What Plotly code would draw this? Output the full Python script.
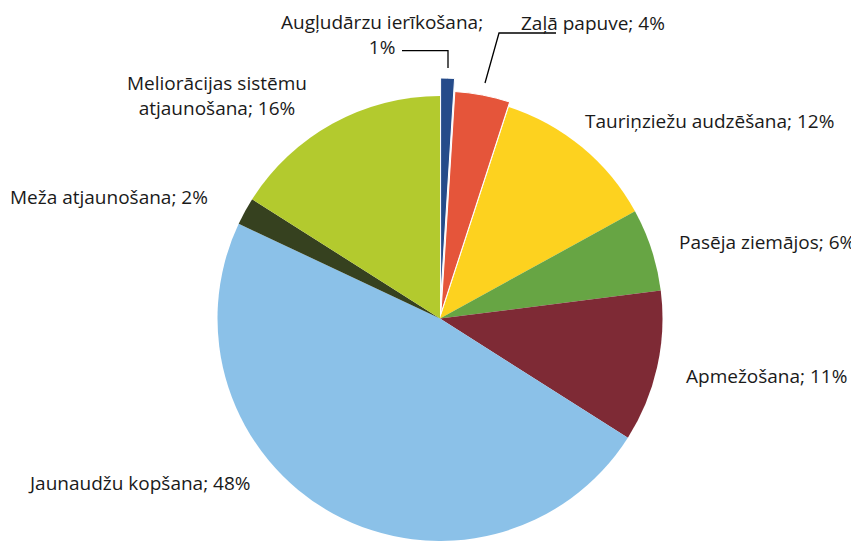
import plotly.graph_objects as go

labels = ["Augļudārzu ierīkošana", "Zaļā papuve", "Tauriņziežu audzēšana", "Pasēja ziemājos",
          "Apmežošana", "Jaunaudžu kopšana", "Meža atjaunošana", "Meliorācijas sistēmu atjaunošana"]
values = [1, 4, 12, 6, 11, 48, 2, 16]
colors = ["#254B8A", "#E5553A", "#FDD21F", "#67A544", "#7E2A35", "#8BC1E8", "#36411F", "#B3CA2E"]

# page has an 8px body margin; figure sized to fill the rest of the 859x541 window
OFF = 8
W, H = 859 - OFF, 541 - OFF
FONT = "Open Sans"
FS = 19
TXT = "#1a1a1a"

def px(x):
    return (x - OFF) / W

def py(y):
    return (H - (y - OFF)) / H

def dom(cx, cy, r):
    return dict(x=[max(0, px(cx - r)), min(1, px(cx + r))], y=[max(0, py(cy + r)), min(1, py(cy - r))])

R = 222.5
CX, CY = 440, 318.5

def pie_trace(show, domain, line_w):
    cols = [c if i in show else "rgba(0,0,0,0)" for i, c in enumerate(colors)]
    lw = [line_w if i in show else 0 for i in range(len(colors))]
    return go.Pie(labels=labels, values=values, sort=False, direction="clockwise", rotation=0,
                  marker=dict(colors=cols, line=dict(color="white", width=lw)),
                  textinfo="none", hoverinfo="label+percent", showlegend=False, domain=domain)

fig = go.Figure()
fig.add_trace(pie_trace([2, 3, 4, 5, 6, 7], dom(CX, CY, R), 0))
fig.add_trace(pie_trace([1], dom(CX + 0.9, CY - 4.9, R), 1))
fig.add_trace(pie_trace([0], dom(CX + 0.6, CY - 18, R), 1))

def label_text(i):
    return f"{labels[i]}; {values[i]}%"

texts = {i: label_text(i) for i in range(len(labels))}
texts[0] = label_text(0).replace("; ", ";<br>")
texts[7] = label_text(7).replace("sistēmu ", "sistēmu<br>")

# (x, y, xanchor, yanchor) in window pixels
positions = {
    0: (382, 8, "center", "top"),
    1: (593, 9, "center", "top"),
    2: (709.5, 121, "center", "middle"),
    3: (856, 242, "right", "middle"),
    4: (766, 376, "center", "middle"),
    5: (139.5, 483, "center", "middle"),
    6: (9, 197, "left", "middle"),
    7: (216.5, 95, "center", "middle"),
}

annotations = []
for i, line in texts.items():
    x, y, xa, ya = positions[i]
    annotations.append(dict(x=px(x), y=py(y), xref="paper", yref="paper", text=line,
                            showarrow=False, xanchor=xa, yanchor=ya, align="center", borderpad=0,
                            font=dict(family=FONT, size=FS, color=TXT)))

def path(points):
    return "M " + " L ".join(f"{px(x)},{py(y)}" for x, y in points)

shapes = [
    dict(type="path", xref="paper", yref="paper", path=path([(402, 50.7), (448, 50.7), (448, 68)]),
         line=dict(color="black", width=1.3)),
    dict(type="path", xref="paper", yref="paper", path=path([(556, 33), (499, 33), (485, 83)]),
         line=dict(color="black", width=1.3)),
]

fig.update_layout(width=W, height=H, margin=dict(l=0, r=0, t=0, b=0),
                  paper_bgcolor="white", plot_bgcolor="white",
                  annotations=annotations, shapes=shapes)

fig.write_html("out.html")
